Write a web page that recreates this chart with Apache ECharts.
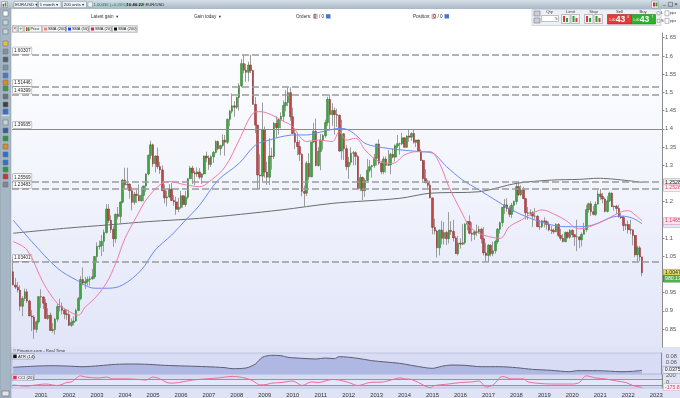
<!DOCTYPE html>
<html><head><meta charset="utf-8">
<script src="https://cdn.jsdelivr.net/npm/echarts@6/dist/echarts.min.js"></script>
<style>html,body{margin:0;padding:0;background:#fff;overflow:hidden}#chart{width:680px;height:398px}</style>
</head><body><div id="chart"></div>
<script>
// ---------------- DATA (EUR/USD monthly) ----------------
const startYear = 2000;
const monthCount = 279; // Jan 2000 .. Mar 2023 (axis span)
const firstOpen = 1.0070;
const closes = [
0.9708,0.9650,0.9570,0.9125,0.9338,0.9520,0.9270,0.8860,0.8828,0.8490,0.8698,0.9388,
0.9378,0.9210,0.8790,0.8880,0.8460,0.8485,0.8770,0.9115,0.9115,0.9016,0.8915,0.8895,
0.8600,0.8682,0.8720,0.9010,0.9335,0.9860,0.9760,0.9810,0.9860,0.9880,0.9930,1.0490,
1.0765,1.0785,1.0905,1.1150,1.1795,1.1485,1.1235,1.0980,1.1650,1.1590,1.1985,1.2590,
1.2460,1.2480,1.2300,1.1980,1.2200,1.2170,1.2020,1.2170,1.2430,1.2760,1.3270,1.3560,
1.3040,1.3250,1.2960,1.2870,1.2300,1.2100,1.2130,1.2340,1.2030,1.1990,1.1790,1.1840,
1.2160,1.1920,1.2120,1.2630,1.2920,1.2790,1.2760,1.2810,1.2670,1.2760,1.3250,1.3200,
1.3020,1.3230,1.3350,1.3650,1.3450,1.3540,1.3690,1.3630,1.4260,1.4480,1.4630,1.4590,
1.4860,1.5180,1.5790,1.5610,1.5550,1.5750,1.5600,1.4670,1.4100,1.2730,1.2700,1.3970,
1.2810,1.2670,1.3250,1.3240,1.4150,1.4030,1.4250,1.4340,1.4640,1.4720,1.4990,1.4330,
1.3870,1.3630,1.3510,1.3300,1.2280,1.2230,1.3050,1.2680,1.3630,1.3930,1.2990,1.3380,
1.3690,1.3810,1.4170,1.4810,1.4390,1.4500,1.4390,1.4370,1.3390,1.3860,1.3450,1.2960,
1.3080,1.3330,1.3340,1.3240,1.2360,1.2660,1.2300,1.2580,1.2860,1.2960,1.2990,1.3190,
1.3580,1.3060,1.2820,1.3170,1.3000,1.3010,1.3300,1.3220,1.3530,1.3590,1.3590,1.3750,
1.3490,1.3800,1.3770,1.3870,1.3630,1.3690,1.3390,1.3130,1.2630,1.2520,1.2450,1.2100,
1.1290,1.1190,1.0730,1.1220,1.0990,1.1150,1.0980,1.1210,1.1180,1.1000,1.0570,1.0860,
1.0830,1.0870,1.1380,1.1450,1.1130,1.1100,1.1170,1.1160,1.1240,1.0980,1.0590,1.0520,
1.0800,1.0570,1.0650,1.0900,1.1240,1.1420,1.1840,1.1910,1.1810,1.1650,1.1900,1.2000,
1.2410,1.2190,1.2320,1.2080,1.1690,1.1680,1.1690,1.1600,1.1600,1.1310,1.1310,1.1470,
1.1450,1.1370,1.1220,1.1210,1.1170,1.1370,1.1070,1.0990,1.0900,1.1150,1.1020,1.1210,
1.1090,1.1030,1.1030,1.0950,1.1100,1.1230,1.1780,1.1940,1.1720,1.1650,1.1930,1.2210,
1.2140,1.2070,1.1730,1.2020,1.2230,1.1860,1.1870,1.1810,1.1580,1.1560,1.1340,1.1370,
1.1230,1.1220,1.1070,1.0540,1.0730,1.0480,1.0044];
const highs = [
1.0414,0.9900,0.9790,0.9700,0.9400,0.9610,0.9600,0.9300,0.9020,0.8880,0.8730,0.9400,
0.9590,0.9400,0.9320,0.9070,0.8950,0.8660,0.8810,0.9200,0.9330,0.9230,0.9070,0.9050,
0.9030,0.8790,0.8850,0.9060,0.9380,0.9950,1.0190,0.9930,0.9940,0.9950,1.0150,1.0500,
1.0880,1.0930,1.1080,1.1230,1.1930,1.1930,1.1620,1.1330,1.1670,1.1850,1.2000,1.2620,
1.2930,1.2930,1.2500,1.2400,1.2270,1.2320,1.2470,1.2400,1.2430,1.2770,1.3290,1.3670,
1.3590,1.3270,1.3480,1.3090,1.2990,1.2470,1.2300,1.2480,1.2510,1.2180,1.2130,1.2100,
1.2290,1.2180,1.2290,1.2640,1.2980,1.2980,1.2850,1.2940,1.2920,1.2780,1.3260,1.3370,
1.3270,1.3270,1.3390,1.3680,1.3680,1.3560,1.3850,1.3830,1.4280,1.4520,1.4970,1.4760,
1.4880,1.5250,1.5910,1.6019,1.5780,1.5840,1.6038,1.5620,1.4870,1.4110,1.3300,1.4720,
1.4060,1.3090,1.3740,1.3480,1.4180,1.4340,1.4290,1.4450,1.4780,1.5060,1.5140,1.5140,
1.4580,1.3990,1.3820,1.3690,1.3330,1.2440,1.3110,1.3330,1.3640,1.4160,1.4280,1.3500,
1.3860,1.3860,1.4250,1.4880,1.4940,1.4700,1.4580,1.4550,1.4390,1.4250,1.3880,1.3550,
1.3230,1.3490,1.3390,1.3380,1.3280,1.2750,1.2690,1.2640,1.3170,1.3140,1.3010,1.3310,
1.3590,1.3710,1.3120,1.3240,1.3240,1.3420,1.3340,1.3450,1.3570,1.3830,1.3620,1.3890,
1.3770,1.3820,1.3970,1.3900,1.3995,1.3700,1.3700,1.3440,1.3150,1.2890,1.2600,1.2570,
1.2110,1.1530,1.1220,1.1230,1.1470,1.1440,1.1200,1.1710,1.1460,1.1500,1.1050,1.1060,
1.0990,1.1380,1.1410,1.1460,1.1620,1.1430,1.1190,1.1370,1.1330,1.1280,1.1300,1.0870,
1.0830,1.0830,1.0900,1.0950,1.1270,1.1450,1.1850,1.2070,1.2090,1.1880,1.1960,1.2030,
1.2540,1.2555,1.2450,1.2410,1.2100,1.1850,1.1790,1.1740,1.1820,1.1620,1.1500,1.1490,
1.1570,1.1490,1.1450,1.1330,1.1260,1.1410,1.1410,1.1250,1.1110,1.1180,1.1180,1.1240,
1.1240,1.1100,1.1500,1.1040,1.1150,1.1420,1.1910,1.1970,1.2010,1.1880,1.2000,1.2310,
1.2349,1.2240,1.2110,1.2150,1.2270,1.2250,1.1900,1.1910,1.1910,1.1690,1.1610,1.1390,
1.1480,1.1500,1.1240,1.1080,1.0790,1.0780,1.0490];
const lows = [
0.9700,0.9600,0.9500,0.9000,0.8850,0.9270,0.9220,0.8850,0.8440,0.8228,0.8400,0.8650,
0.9080,0.9050,0.8780,0.8750,0.8450,0.8400,0.8344,0.8700,0.8980,0.8900,0.8770,0.8750,
0.8580,0.8560,0.8600,0.8700,0.8990,0.9290,0.9700,0.9600,0.9690,0.9690,0.9850,0.9870,
1.0340,1.0680,1.0500,1.0620,1.1120,1.1410,1.1140,1.0760,1.0870,1.1510,1.1410,1.1950,
1.2350,1.2360,1.2080,1.1760,1.1910,1.1960,1.2010,1.2000,1.2010,1.2270,1.2720,1.3160,
1.2950,1.2800,1.2900,1.2760,1.2300,1.1950,1.1870,1.2100,1.2010,1.1880,1.1640,1.1710,
1.1800,1.1830,1.1860,1.2060,1.2620,1.2480,1.2450,1.2680,1.2620,1.2480,1.2740,1.3080,
1.2870,1.2950,1.3060,1.3320,1.3410,1.3270,1.3490,1.3260,1.3580,1.4070,1.4420,1.4330,
1.4540,1.4500,1.5140,1.5520,1.5290,1.5300,1.5530,1.4660,1.3880,1.2330,1.2330,1.2550,
1.2660,1.2460,1.2450,1.2880,1.3170,1.3750,1.3840,1.4010,1.4200,1.4480,1.4620,1.4220,
1.3860,1.3440,1.3270,1.3120,1.2140,1.1876,1.2150,1.2590,1.2670,1.3620,1.2970,1.2960,
1.2860,1.3430,1.3750,1.4080,1.3970,1.4080,1.3840,1.4050,1.3360,1.3150,1.3140,1.2860,
1.2620,1.3000,1.3000,1.3000,1.2340,1.2290,1.2040,1.2130,1.2570,1.2800,1.2660,1.2920,
1.2990,1.3010,1.2750,1.2750,1.2790,1.2980,1.2750,1.3190,1.3100,1.3470,1.3290,1.3550,
1.3480,1.3470,1.3640,1.3670,1.3590,1.3500,1.3370,1.3120,1.2570,1.2500,1.2360,1.2090,
1.1100,1.1100,1.0460,1.0520,1.0820,1.0820,1.0810,1.0850,1.1090,1.0900,1.0560,1.0520,
1.0710,1.0810,1.0820,1.1210,1.1100,1.0910,1.0950,1.1050,1.1120,1.0850,1.0520,1.0350,
1.0340,1.0490,1.0500,1.0570,1.0840,1.1120,1.1310,1.1660,1.1720,1.1570,1.1550,1.1720,
1.1920,1.2150,1.2150,1.2070,1.1510,1.1500,1.1610,1.1300,1.1530,1.1300,1.1220,1.1270,
1.1290,1.1230,1.1180,1.1110,1.1110,1.1160,1.1030,1.0930,1.0880,1.0880,1.0980,1.0980,
1.1010,1.0780,1.0640,1.0720,1.0770,1.1100,1.1170,1.1690,1.1610,1.1620,1.1600,1.1920,
1.2050,1.1950,1.1700,1.1700,1.1990,1.1850,1.1750,1.1660,1.1560,1.1520,1.1190,1.1220,
1.1120,1.1100,1.0800,1.0470,1.0350,1.0360,0.9952];

const sma20Points = [['2000-01',1.090],['2000-07',1.067],['2001-02',0.976],['2001-08',0.920],['2001-12',0.902],['2002-05',0.888],['2002-08',0.911],['2002-12',0.934],['2003-05',0.976],['2003-09',1.030],['2004-01',1.099],['2004-06',1.159],['2004-10',1.204],['2005-04',1.246],['2005-08',1.255],['2006-03',1.246],['2006-09',1.241],['2007-02',1.259],['2007-08',1.296],['2008-02',1.369],['2008-08',1.443],['2008-11',1.447],['2009-04',1.438],['2009-08',1.424],['2010-01',1.406],['2010-04',1.378],['2010-07',1.365],['2010-12',1.369],['2011-06',1.365],['2011-09',1.392],['2011-12',1.369],['2012-04',1.374],['2012-08',1.342],['2012-11',1.323],['2013-03',1.308],['2013-08',1.305],['2014-01',1.328],['2014-06',1.337],['2014-12',1.337],['2015-04',1.305],['2015-08',1.241],['2016-01',1.177],['2016-05',1.131],['2016-09',1.113],['2017-01',1.104],['2017-06',1.099],['2017-10',1.131],['2018-03',1.149],['2018-08',1.168],['2018-12',1.177],['2019-06',1.163],['2019-10',1.149],['2020-04',1.125],['2020-12',1.140],['2021-06',1.159],['2021-10',1.172],['2022-01',1.175],['2022-04',1.163],['2022-07',1.1465]];
const sma50Points = [['2000-01',1.149],['2000-09',1.090],['2001-08',1.017],['2002-04',0.985],['2002-12',0.962],['2003-06',0.962],['2003-12',0.971],['2004-08',1.012],['2005-02',1.067],['2005-09',1.108],['2006-03',1.149],['2006-09',1.190],['2007-05',1.259],['2008-02',1.305],['2008-09',1.355],['2009-03',1.369],['2009-08',1.378],['2010-02',1.383],['2010-07',1.383],['2010-11',1.388],['2011-05',1.397],['2011-09',1.401],['2011-12',1.399],['2012-04',1.383],['2012-08',1.360],['2013-01',1.351],['2013-06',1.346],['2013-11',1.342],['2014-08',1.337],['2015-01',1.333],['2015-07',1.296],['2016-02',1.259],['2016-09',1.232],['2017-04',1.204],['2017-11',1.177],['2018-05',1.159],['2018-11',1.145],['2019-04',1.136],['2019-10',1.131],['2020-04',1.131],['2020-10',1.136],['2021-06',1.157],['2021-10',1.160],['2022-03',1.154],['2022-07',1.1388]];
const sma200Points = [['2000-01',1.113],['2001-12',1.127],['2003-06',1.136],['2004-11',1.145],['2006-09',1.154],['2009-08',1.177],['2011-06',1.195],['2013-11',1.209],['2014-12',1.223],['2016-09',1.227],['2018-01',1.250],['2019-04',1.259],['2020-04',1.261],['2020-12',1.264],['2022-07',1.2528]];

const atrDates = ['2000-01','2001-05','2001-12','2002-07','2003-02','2003-09','2004-04','2004-11','2005-06','2006-03','2006-12','2007-08','2007-11','2008-05','2008-09','2008-12','2009-04','2009-08','2009-11','2010-05','2010-11','2011-03','2011-07','2011-09','2012-05','2012-11','2013-05','2013-11','2014-04','2014-10','2015-01','2015-05','2015-09','2016-03','2016-10','2017-06','2018-01','2018-08','2019-04','2019-12','2020-03','2020-12','2021-10','2022-03','2022-07'];
const atrValues = [0.0457,0.0507,0.0497,0.0476,0.0507,0.0549,0.0559,0.0549,0.0518,0.0497,0.0476,0.0446,0.0415,0.0436,0.0559,0.0766,0.0828,0.0818,0.0766,0.0735,0.0714,0.0745,0.0725,0.0787,0.0735,0.0663,0.0621,0.0580,0.0518,0.0446,0.0425,0.0487,0.0528,0.0518,0.0476,0.0476,0.0446,0.0394,0.0363,0.0322,0.0353,0.0353,0.0322,0.0333,0.0363];
const cciDates = ['2000-01','2000-07','2000-09','2001-03','2001-08','2001-12','2002-02','2002-06','2002-08','2003-02','2003-05','2003-08','2004-01','2004-07','2004-10','2005-01','2005-04','2005-07','2005-09','2005-12','2006-06','2006-12','2007-05','2007-11','2008-05','2008-08','2008-11','2009-02','2009-04','2009-08','2010-01','2010-05','2010-09','2010-12','2011-06','2011-09','2012-01','2012-05','2012-10','2013-04','2013-08','2013-11','2014-01','2014-04','2014-07','2014-12','2015-02','2015-08','2016-01','2016-06','2016-09','2016-12','2017-03','2017-07','2017-11','2018-04','2018-06','2018-11','2019-04','2019-10','2020-01','2020-04','2020-07','2020-11','2021-03','2021-08','2021-12','2022-03','2022-06','2022-07'];
const cciValues = [-99,-138,-119,-69,-119,-20,0,200,160,130,160,100,100,80,60,160,100,-20,-40,-20,60,100,130,180,120,30,-99,-79,-40,-20,30,-119,0,-20,80,60,-20,-119,-20,0,80,130,100,80,-20,-190,-119,-69,-20,0,30,-168,-99,180,100,100,0,-50,-69,-69,-69,-20,200,130,100,30,-20,-119,-168,-176];

const dashedLevels = [1.60307, 1.51446, 1.49399, 1.25569, 1.23483, 1.03401];
const solidLevels = [1.39935];
const priceTagValues = {sma200: 1.25283, sma200b: 1.25283, sma20: 1.14651, sma50: 1.13878, last: 1.00476};
const atrTag = 0.0375, cciTag = -175.83;

// ---------------- BUILD ----------------
const FONT = '"Liberation Sans", "DejaVu Sans", Arial, sans-serif';
const months = [];
for (let i = 0; i < monthCount; i++) {
  const y = startYear + Math.floor(i / 12), m = i % 12 + 1;
  months.push(y + '-' + (m < 10 ? '0' : '') + m);
}
const ohlc = closes.map((c, i) => { const o = i ? closes[i - 1] : firstOpen; return [o, c, lows[i], highs[i]]; });
const bodies = ohlc.map(d => [d[0], d[1], Math.min(d[0], d[1]), Math.max(d[0], d[1])]);
const atrData = atrDates.map((d, i) => [d, atrValues[i]]);
const cciData = cciDates.map((d, i) => [d, cciValues[i]]);

function tag(value, text, fg, bg, border, offsetY) {
  return {
    yAxis: value,
    lineStyle: {color: 'rgba(0,0,0,0)', width: 0},
    label: {show: true, position: 'end', distance: 1.5, formatter: text, color: fg, backgroundColor: bg,
      borderColor: border, borderWidth: 0.5, padding: [1, 1.5, 0.5, 1.5], fontSize: 5.2, fontFamily: FONT,
      offset: [0, offsetY || 0]}
  };
}
function levelLabel(v) {
  return {show: true, position: 'insideStartTop', distance: 1, color: '#222', fontSize: 4.6, fontFamily: FONT,
    backgroundColor: '#ffffff', borderColor: '#8a8a8a', borderWidth: 0.5, padding: [1, 1, 0.5, 1],
    formatter: v.toFixed(5)};
}

// chrome helpers
function R(x, y, w, h, fill, stroke, z) {
  return {type: 'rect', silent: true, z: z === undefined ? 20 : z, shape: {x: x, y: y, width: w, height: h},
    style: {fill: fill || 'none', stroke: stroke || null, lineWidth: stroke ? 0.6 : 0}};
}
function T(x, y, text, size, color, bold, align) {
  return {type: 'text', silent: true, z: 21, x: x, y: y,
    style: {text: text, fill: color || '#333', font: (bold ? 'bold ' : '') + size + 'px ' + FONT,
      textAlign: align || 'left', textVerticalAlign: 'middle', align: align || 'left', verticalAlign: 'middle'}};
}
const topGrad = new echarts.graphic.LinearGradient(0, 0, 0, 1, [{offset: 0, color: '#d5dfe7'}, {offset: 1, color: '#a8b8c6'}]);
const els = [];
els.push(R(11, 347, 669, 51, '#dfe3f5', null, -5));
// top bar
els.push(R(0, 0, 680, 9, topGrad, null, 19));
els.push(R(1.5, 1.5, 6, 6, '#eef2f5', '#7a8a98'), R(2.6, 3.8, 1.5, 2.8, '#d03030'), R(4.8, 2.5, 1.5, 4.1, '#2f9f2f'));
els.push(R(14, 1.3, 23, 6.4, '#eef2f5', '#8797a5'), T(15.3, 4.6, 'EUR/USD ▾', 4.2, '#222'));
els.push(R(38.5, 1.3, 22.5, 6.4, '#eef2f5', '#8797a5'), T(39.8, 4.6, '1 month ▾', 4.2, '#222'));
els.push(R(62.5, 1.3, 24, 6.4, '#eef2f5', '#8797a5'), T(63.8, 4.6, '200 units ▾', 4.2, '#222'));
els.push(R(88, 2, 4.5, 5, '#f7f7f7', '#8797a5'));
els.push(T(93.5, 4.6, '1.00436 (+0.26%)', 4.2, '#178a17'), T(126.5, 4.6, '16:46:22', 4.2, '#111', true));
els.push({type: 'circle', silent: true, z: 21, shape: {cx: 143, cy: 4.5, r: 1.3}, style: {fill: '#22a022'}});
els.push(T(145.5, 4.6, 'EUR/USD', 4.2, '#222'));
els.push(R(651.5, 1, 7, 7, '#f6f6f6', '#8797a5'), R(653, 2.5, 2, 4, '#d03030'), R(655.5, 2.5, 2, 4, '#2f9f2f'));
els.push(T(663, 4, '_', 5, '#333'), R(668.5, 2.3, 4, 4, null, '#555'), T(676, 4.6, '×', 6, '#333', false, 'center'));
// second row controls
els.push(T(91, 16.5, 'Latest gain  ▾', 4.6, '#333'), T(194, 16.5, 'Gain today  ▾', 4.6, '#333'));
els.push(T(296, 16.5, 'Orders:  0', 4.6, '#333'), R(313.5, 14.2, 3.6, 4.3, '#f3d3d3', '#c08080'), T(319, 16.5, '/ 0', 4.6, '#333'), R(326, 14.2, 4.5, 4.3, '#4a78c8'));
els.push(T(413, 16.5, 'Position:  0', 4.6, '#333'), R(432, 14.2, 3.6, 4.3, '#f3d3d3', '#c08080'), T(437.5, 16.5, '/ 0', 4.6, '#333'), R(444.5, 14.2, 4.5, 4.3, '#4a78c8'));
els.push(R(532, 9.5, 129, 16, '#eef1f4', '#b8c2cc', 19));
els.push(R(534, 11, 6, 5, '#c8d0d8', '#778'), R(534, 18, 6, 5, '#c8d0d8', '#778'));
els.push(T(549.5, 12.3, 'Qty', 4.2, '#333', false, 'center'), R(541.5, 15.5, 17, 6, '#fff', '#99a'), T(557.5, 18.5, '5', 4.2, '#333', false, 'right'));
els.push(T(570.5, 12.3, 'Limit', 4.2, '#333', false, 'center'), R(561.5, 14.5, 8.5, 9, '#f4f4f4', '#99a'), R(571, 14.5, 8.5, 9, '#f4f4f4', '#99a'));
els.push(R(563, 16, 2, 6, '#d04040'), R(566, 18, 2, 4, '#30a030'), R(572.5, 16, 2, 6, '#30a030'), R(575.5, 18, 2, 4, '#d04040'));
els.push(T(593.5, 12.3, 'Stop', 4.2, '#333', false, 'center'), R(584.5, 14.5, 8.5, 9, '#f4f4f4', '#99a'), R(594, 14.5, 8.5, 9, '#f4f4f4', '#99a'));
els.push(R(586, 16, 2, 6, '#d04040'), R(589, 18, 2, 4, '#30a030'), R(595.5, 16, 2, 6, '#30a030'), R(598.5, 18, 2, 4, '#d04040'));
els.push(T(619.5, 12.3, 'Sell', 4.2, '#333', false, 'center'), R(607.5, 14.5, 24, 9.5, '#e03c3c', '#a02020'));
els.push(T(609, 20, '1.00', 3.3, '#fff'), T(620.5, 19.3, '43', 8.5, '#fff', true, 'center'), T(627.5, 16.8, '6', 3, '#fff'));
els.push(T(643, 12.3, 'Buy', 4.2, '#333', false, 'center'), R(631.5, 14.5, 24, 9.5, '#2fb02f', '#1f801f'));
els.push(T(633, 20, '1.00', 3.3, '#fff'), T(644.5, 19.3, '43', 8.5, '#fff', true, 'center'), T(651.5, 16.8, '7', 3, '#fff'));
els.push(R(657, 11.8, 3, 3, '#fff', '#888'), T(661, 13.3, 'L', 4, '#333'), R(665, 10.8, 4, 5, '#fff', '#889'), T(670, 13.3, 'pips', 3.3, '#333'));
els.push(R(657, 19.3, 3, 3, '#fff', '#888'), T(661, 20.8, 'S', 4, '#333'), R(665, 18.3, 4, 5, '#fff', '#889'), T(670, 20.8, 'pips', 3.3, '#333'));
// left toolbar
els.push(R(0, 9, 11, 389, '#a6b6c3', '#8a9aa8', 19));
const iconYs = [[11, '#ffffff'], [20, '#c9d3db'], [29, '#c9d3db'], [41, '#e7c33a'], [49, '#8090a0'], [57, '#506070'], [65, '#8090a0'], [73, '#4a78c8'], [80, '#e08a20'], [86, '#3a9a3a'], [94, '#707070'], [102, '#404040'], [109, '#3070d0'],
  [120, '#c9d3db'], [128, '#3a5a9a'], [136, '#2a9a2a'], [144, '#e08a20'], [152, '#3070d0'], [160, '#3070d0'], [167, '#2a9a2a'], [174, '#d03030'], [182, '#808890']];
iconYs.forEach(p => els.push(R(3, p[0], 5, 5, p[1], '#6a7a88', 21)));
els.push(R(1.5, 115.5, 8, 0.6, '#ffffff', null, 21));
els.push(R(2, 391, 7, 5, '#dfe5ea', '#667', 21));
// legend row
els.push(R(11, 25, 127, 8, '#d9dde3', null, 19));
els.push(R(12.5, 26, 4.5, 6, '#f2f2f2', '#999'), T(14.75, 29, '×', 5, '#d02020', false, 'center'));
els.push(R(18.5, 26, 4.5, 6, '#f2f2f2', '#999'), T(20.75, 29, '+', 5, '#20a020', false, 'center'));
els.push(R(24.5, 26, 17, 6, '#f5f5f5', '#aaa'), R(26, 27.3, 1.5, 3.6, '#d03030'), R(28, 27.3, 1.5, 3.6, '#30a030'), T(30.5, 29.1, 'Price', 3.9, '#222'));
els.push(R(42.5, 26, 23, 6, '#f5f5f5', '#aaa'), R(44, 27.5, 3, 3, '#f08070'), T(48, 29.1, 'SMA (200)', 3.9, '#222'));
els.push(R(66.5, 26, 22, 6, '#f5f5f5', '#aaa'), R(68, 27.5, 3, 3, '#2040ff'), T(72, 29.1, 'SMA (50)', 3.9, '#222'));
els.push(R(89.5, 26, 22, 6, '#f5f5f5', '#aaa'), R(91, 27.5, 3, 3, '#ff1040'), T(95, 29.1, 'SMA (20)', 3.9, '#222'));
els.push(R(112.5, 26, 24.5, 6, '#f5f5f5', '#aaa'), R(114, 27.5, 3, 3, '#111'), T(118, 29.1, 'SMA (200)', 3.9, '#222'));
// panel captions
els.push(T(13, 350.4, '© Finance.com - Real Time', 4.3, '#333'));
els.push(R(12, 353.6, 22, 5.5, '#eef0f8', '#8a8fa8'), R(13.2, 354.6, 3.5, 3.5, '#111'), T(18, 356.4, 'ATR (14)', 4.2, '#222'));
els.push(R(12, 374.8, 22, 5.5, '#eef0f8', '#8a8fa8'), R(13.2, 375.8, 3.5, 3.5, '#ff2050'), T(18, 377.6, 'CCI (20)', 4.2, '#222'));

const mainBg = new echarts.graphic.LinearGradient(0, 0, 0, 1, [{offset: 0, color: '#ffffff'}, {offset: 0.45, color: '#f3f5fd'}, {offset: 1, color: '#e1e5f8'}]);
const axisLabelBase = {fontSize: 5.8, color: '#555', fontFamily: FONT};

const option = {
  animation: false,
  backgroundColor: '#ffffff',
  textStyle: {fontFamily: FONT},
  grid: [
    {left: 12, top: 33, width: 650, height: 314.2, show: true, backgroundColor: mainBg, borderWidth: 0},
    {left: 12, top: 353, width: 650, height: 21, show: true, backgroundColor: '#d8ddf5', borderColor: '#a3abcf', borderWidth: 0.5},
    {left: 12, top: 374.3, width: 650, height: 15.1, show: true, backgroundColor: '#d6dbf3', borderColor: '#a3abcf', borderWidth: 0.5}
  ],
  xAxis: [0, 1, 2].map(g => ({
    type: 'category', gridIndex: g, data: months, boundaryGap: true,
    axisLine: {show: false}, axisTick: {show: false}, splitLine: {show: false},
    axisLabel: g === 2 ? {show: true, interval: (i, v) => v.slice(5) === '01' && v !== '2000-01',
      formatter: v => v.slice(0, 4), fontSize: 5.8, color: '#333', margin: 4, fontFamily: FONT} : {show: false}
  })),
  yAxis: [
    {type: 'value', gridIndex: 0, position: 'right', min: 0.8, max: 1.663, interval: 0.05,
      axisLine: {show: true, lineStyle: {color: '#8c8c8c', width: 1}},
      axisTick: {show: true, length: 2.5, lineStyle: {color: '#8c8c8c'}},
      splitLine: {show: false},
      axisLabel: Object.assign({margin: 3, showMinLabel: false, showMaxLabel: false,
        formatter: v => String(parseFloat(v.toFixed(2)))}, axisLabelBase)},
    {type: 'value', gridIndex: 1, position: 'right', min: 0.025, max: 0.09, interval: 0.005,
      axisLine: {show: true, lineStyle: {color: '#8c8c8c'}}, axisTick: {show: false}, splitLine: {show: false},
      axisLabel: Object.assign({margin: 4, showMinLabel: false, showMaxLabel: false,
        formatter: v => (Math.abs(v - 0.08) < 1e-6 ? '0.08' : Math.abs(v - 0.06) < 1e-6 ? '0.06' : '')}, axisLabelBase)},
    {type: 'value', gridIndex: 2, position: 'right', min: -200, max: 250, interval: 50,
      axisLine: {show: true, lineStyle: {color: '#8c8c8c'}}, axisTick: {show: false}, splitLine: {show: false},
      axisLabel: Object.assign({margin: 4, showMinLabel: false, showMaxLabel: false,
        formatter: v => (v === 200 ? '200' : v === 0 ? '0' : '')}, axisLabelBase)}
  ],
  graphic: {elements: els},
  series: [
    {name: 'wick', type: 'candlestick', xAxisIndex: 0, yAxisIndex: 0, data: ohlc, barWidth: 1, z: 2,
      itemStyle: {color: '#9c9c9c', color0: '#9c9c9c', borderColor: '#9c9c9c', borderColor0: '#9c9c9c', borderWidth: 1},
      markLine: {silent: true, symbol: ['none', 'none'], animation: false, precision: 5,
        data: dashedLevels.map(v => ({yAxis: v, lineStyle: {color: '#9a9a9a', width: 1.5, type: [7, 3]}, label: levelLabel(v)}))
          .concat(solidLevels.map(v => ({yAxis: v, lineStyle: {color: '#8a8a8a', width: 1, type: 'solid'}, label: levelLabel(v)})))}},
    {name: 'Price', type: 'candlestick', xAxisIndex: 0, yAxisIndex: 0, data: bodies, barWidth: 2.1, z: 3,
      itemStyle: {color: '#3fa63f', color0: '#c04646', borderColor: '#2b762b', borderColor0: '#8a2e2e', borderWidth: 0.5},
      markLine: {silent: true, symbol: ['none', 'none'], animation: false, precision: 5, data: [
        tag(priceTagValues.last, '1.00476', '#222', '#e6df5a', '#a09a30', 0),
        tag(priceTagValues.last, '980.13k', '#f4fff4', '#4cb24c', '#2a7a2a', 6)]}},
    {name: 'SMA (200)', type: 'line', xAxisIndex: 0, yAxisIndex: 0, data: sma200Points, smooth: 0.3, symbol: 'none', z: 4,
      lineStyle: {color: '#6d6d6d', width: 1},
      markLine: {silent: true, symbol: ['none', 'none'], animation: false, precision: 5, data: [
        tag(priceTagValues.sma200, '1.25283', '#222', '#ecedf2', '#8a8a8a', 0),
        tag(priceTagValues.sma200b, '1.25283', '#e05070', '#fbeff2', '#d8a0b0', 5.5)]}},
    {name: 'SMA (50)', type: 'line', xAxisIndex: 0, yAxisIndex: 0, data: sma50Points, smooth: 0.35, symbol: 'none', z: 4,
      lineStyle: {color: '#6a8bf2', width: 1},
      markLine: {silent: true, symbol: ['none', 'none'], animation: false, precision: 5, data: [
        tag(priceTagValues.sma50, '1.13878', '#3a5ad8', '#e3e8fd', '#9aaae8', 0)]}},
    {name: 'SMA (20)', type: 'line', xAxisIndex: 0, yAxisIndex: 0, data: sma20Points, smooth: 0.35, symbol: 'none', z: 5,
      lineStyle: {color: '#f27ca6', width: 1},
      markLine: {silent: true, symbol: ['none', 'none'], animation: false, precision: 5, data: [
        tag(priceTagValues.sma20, '1.14651', '#e03a70', '#fde3ec', '#e7a0b8', 0)]}},
    {name: 'ATR (14)', type: 'line', xAxisIndex: 1, yAxisIndex: 1, data: atrData, smooth: 0.3, symbol: 'none', z: 3,
      lineStyle: {color: '#5d5f70', width: 1}, areaStyle: {color: '#afb7e3', opacity: 1},
      markLine: {silent: true, symbol: ['none', 'none'], animation: false, precision: 5, data: [
        tag(atrTag, '0.0375', '#222', '#eef0fa', '#8a8fa8', 0)]}},
    {name: 'CCI (20)', type: 'line', xAxisIndex: 2, yAxisIndex: 2, data: cciData, smooth: 0.3, symbol: 'none', z: 4,
      lineStyle: {color: '#f06a9c', width: 1},
      markArea: {silent: true, itemStyle: {color: 'rgba(240,243,255,0.55)'}, data: [[{yAxis: -100}, {yAxis: 100}]]},
      markLine: {silent: true, symbol: ['none', 'none'], animation: false, precision: 2, data: [
        {yAxis: 100, lineStyle: {color: '#7f8df0', width: 1, type: 'solid'}, label: {show: false}},
        {yAxis: -100, lineStyle: {color: '#7f8df0', width: 1, type: 'solid'}, label: {show: false}},
        tag(cciTag, '-175.83', '#e03a70', '#f6eef4', '#c8a8c0', 0)]}}
  ]
};
const chart = echarts.init(document.getElementById('chart'), null, {renderer: 'canvas'});
chart.setOption(option);
</script></body></html>
